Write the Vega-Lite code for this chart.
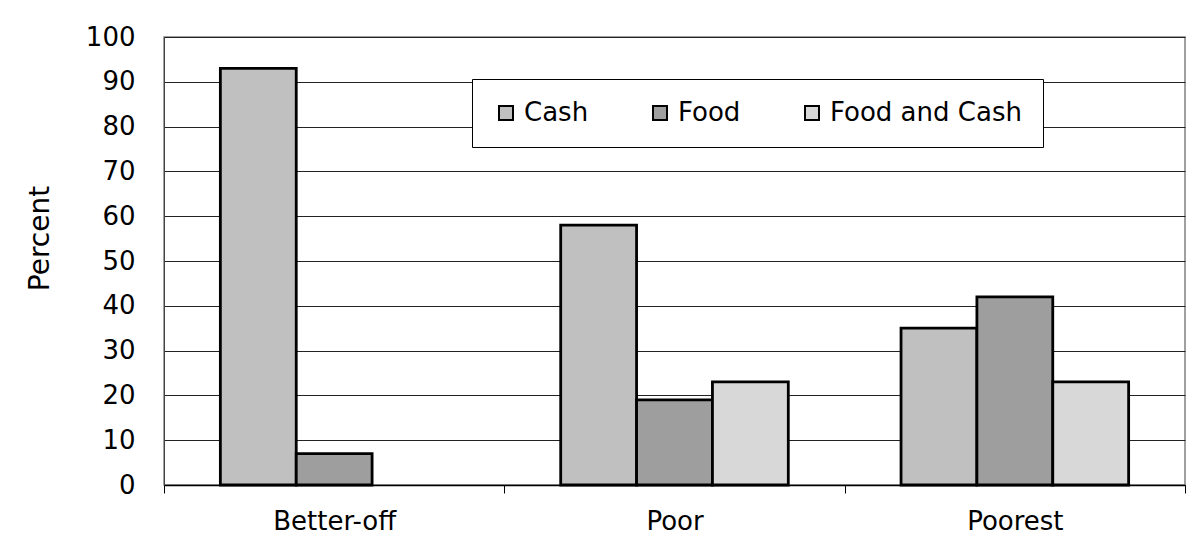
{
  "$schema": "https://vega.github.io/schema/vega-lite/v6.json",
  "width": 1021,
  "height": 448,
  "autosize": {"type": "none"},
  "padding": {"left": 164, "top": 37, "right": 11, "bottom": 68},
  "background": "white",
  "data": {
    "values": [
      {"group": "Better-off", "type": "Cash", "percent": 93},
      {"group": "Better-off", "type": "Food", "percent": 7},
      {"group": "Poor", "type": "Cash", "percent": 58},
      {"group": "Poor", "type": "Food", "percent": 19},
      {"group": "Poor", "type": "Food and Cash", "percent": 23},
      {"group": "Poorest", "type": "Cash", "percent": 35},
      {"group": "Poorest", "type": "Food", "percent": 42},
      {"group": "Poorest", "type": "Food and Cash", "percent": 23}
    ]
  },
  "mark": {"type": "bar", "stroke": "black", "strokeWidth": 2.8},
  "encoding": {
    "x": {
      "field": "group",
      "type": "nominal",
      "sort": ["Better-off", "Poor", "Poorest"],
      "scale": {"paddingInner": 0, "paddingOuter": 0},
      "axis": {
        "title": null,
        "labelAngle": 0,
        "labelFont": "DejaVu Sans",
        "labelFontSize": 26,
        "labelColor": "black",
        "labelPadding": 15,
        "tickBand": "extent",
        "tickSize": 8,
        "tickColor": "black",
        "domainColor": "black",
        "domainWidth": 1.5
      }
    },
    "xOffset": {
      "field": "type",
      "type": "nominal",
      "scale": {"domain": ["Cash", "Food", "Food and Cash"], "paddingInner": 0, "paddingOuter": 0.743}
    },
    "y": {
      "field": "percent",
      "type": "quantitative",
      "scale": {"domain": [0, 100], "nice": false},
      "axis": {
        "title": "Percent",
        "titleFont": "DejaVu Sans",
        "titleFontSize": 28,
        "titleFontWeight": "normal",
        "titleColor": "black",
        "titleX": -124,
        "titleY": 201,
        "titleBaseline": "middle",
        "titleAlign": "center",
        "values": [0, 10, 20, 30, 40, 50, 60, 70, 80, 90, 100],
        "labelFont": "DejaVu Sans",
        "labelFontSize": 26,
        "labelColor": "black",
        "labelPadding": 29,
        "ticks": false,
        "grid": true,
        "gridColor": "#222222",
        "gridWidth": 1,
        "domainColor": "#444444",
        "domainWidth": 1
      }
    },
    "fill": {
      "field": "type",
      "type": "nominal",
      "scale": {"domain": ["Cash", "Food", "Food and Cash"], "range": ["#c0c0c0", "#9e9e9e", "#d8d8d8"]},
      "legend": {
        "title": null,
        "orient": "none",
        "legendX": 308,
        "legendY": 42,
        "direction": "horizontal",
        "strokeColor": "black",
        "fillColor": "white",
        "padding": 21,
        "symbolType": "square",
        "symbolSize": 196,
        "symbolStrokeColor": "black",
        "symbolStrokeWidth": 2,
        "labelFont": "DejaVu Sans",
        "labelFontSize": 26,
        "labelColor": "black",
        "labelOffset": 5,
        "labelLimit": 400,
        "columnPadding": 58
      }
    }
  },
  "config": {
    "view": {"stroke": "#808080", "strokeWidth": 1.5}
  }
}
